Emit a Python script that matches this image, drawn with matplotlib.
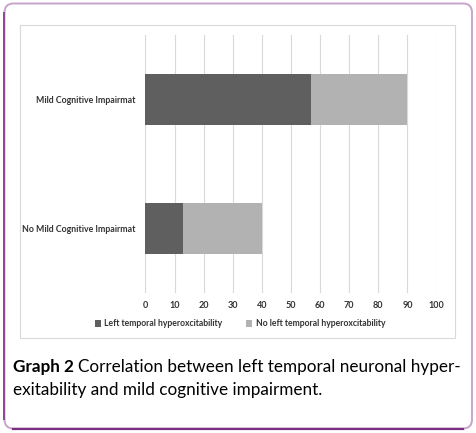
#!/usr/bin/env python3
"""Graph 2: left temporal hyperexcitability vs mild cognitive impairment"""

import matplotlib
matplotlib.use('Agg')
import matplotlib.pyplot as plt
from matplotlib.patches import FancyBboxPatch, Rectangle
from matplotlib.lines import Line2D

# Data (bottom to top)
categories = ['No Mild Cognitive Impairmat', 'Mild Cognitive Impairmat']
left_hyper = [13, 57]
no_left_hyper = [27, 33]
series_names = ['Left temporal hyperoxcitability', 'No left temporal hyperoxcitability']
dark_color = '#5f5f5f'
light_color = '#b2b2b2'

FONT = 'Lato'
W, H = 477, 433
fig = plt.figure(figsize=(W / 100, H / 100), dpi=100)

# outer rounded frame
frame = fig.add_axes([0, 0, 1, 1])
frame.set_xlim(0, W)
frame.set_ylim(H, 0)
frame.axis('off')
frame.add_patch(FancyBboxPatch((4.5, 3.5), 467.5, 425, boxstyle='round,pad=0,rounding_size=9',
                               fill=False, edgecolor='#c9a3cb', linewidth=1.4))
frame.add_line(Line2D([4.5, 4.5], [13, 419], color='#8a4a90', linewidth=1.4))
frame.add_line(Line2D([13, 463], [428.5, 428.5], color='#7a2f82', linewidth=1.6))
# inner chart box
frame.add_patch(Rectangle((20.5, 24.5), 435, 313, fill=False, edgecolor='#d9d9d9', linewidth=0.8))

# caption: shrink until the first line fits the reference width
t1 = frame.text(13, 372, 'Graph 2', fontweight='bold', family=FONT, va='baseline')
t2 = frame.text(0, 372, 'Correlation between left temporal neuronal hyper-', family=FONT, va='baseline')
t3 = frame.text(13, 395, 'exitability and mild cognitive impairment.', family=FONT, va='baseline')
renderer = fig.canvas.get_renderer()
size = 13.4
while size > 9:
    for t in (t1, t2, t3):
        t.set_fontsize(size)
    x_after = t1.get_window_extent(renderer).x1 + 4
    t2.set_x(x_after)
    if t2.get_window_extent(renderer).x1 <= 462:
        break
    size -= 0.1

# chart
ax = fig.add_axes([145.5 / W, 1 - 293 / H, 291 / W, 258 / H])
y = range(len(categories))
ax.barh(y, left_hyper, height=0.39, color=dark_color, label=series_names[0])
ax.barh(y, no_left_hyper, left=left_hyper, height=0.39, color=light_color, label=series_names[1])
ax.set_xlim(0, 100)
ax.set_ylim(-0.5, 1.5)
ax.set_xticks(range(0, 101, 10))
ax.set_yticks(list(y))
ax.set_yticklabels(categories, fontsize=6.3, fontweight='bold', family=FONT, color='#333333')
ax.tick_params(axis='y', length=0, pad=7)
ax.tick_params(axis='x', length=0, pad=6, labelsize=6.5, labelcolor='#333333')
for lab in ax.get_xticklabels():
    lab.set_fontweight('bold')
    lab.set_family(FONT)
ax.grid(axis='x', color='#d9d9d9', linewidth=0.8)
ax.set_axisbelow(True)
for s in ax.spines.values():
    s.set_visible(False)

leg = fig.legend(loc='center', bbox_to_anchor=(240 / W, 1 - 324 / H), ncol=2, frameon=False,
                 prop={'size': 6.2, 'weight': 'bold', 'family': FONT},
                 handlelength=0.7, handleheight=0.7, handletextpad=0.4, columnspacing=2.8)
for t in leg.get_texts():
    t.set_color('#333333')

plt.savefig('out.png', dpi=100)
